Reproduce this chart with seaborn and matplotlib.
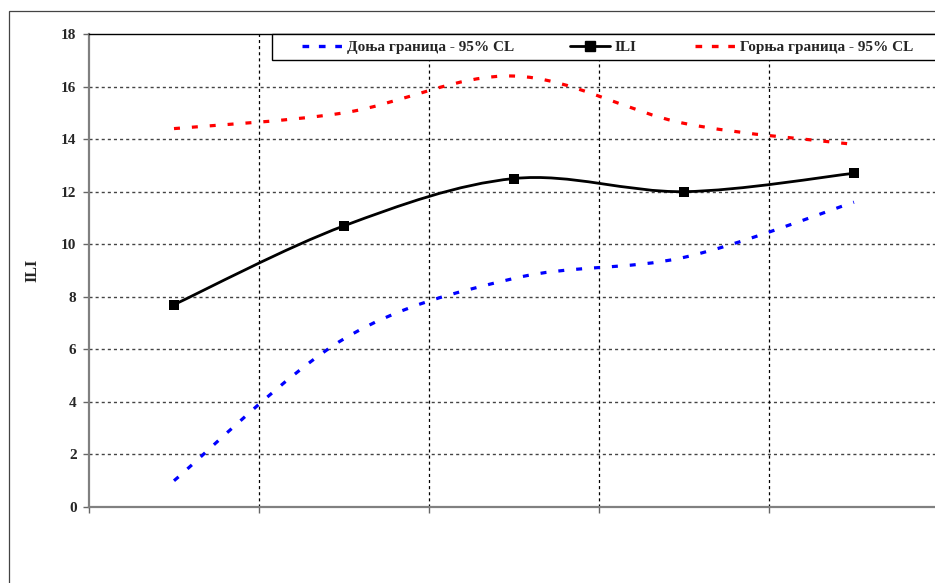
import numpy as np
import pandas as pd
import matplotlib
matplotlib.use("Agg")
import matplotlib.pyplot as plt
import seaborn as sns
from matplotlib.path import Path
from matplotlib.patches import PathPatch, Rectangle
from matplotlib.lines import Line2D

# ---- data ----
categories = [1, 2, 3, 4, 5]
ili = [7.7, 10.7, 12.5, 12.0, 12.7]
lower_ci = [1.0, 6.4, 8.7, 9.5, 11.6]
upper_ci = [14.4, 15.0, 16.4, 14.6, 13.8]
y_ticks = [0, 2, 4, 6, 8, 10, 12, 14, 16, 18]
label_lower = "Доња граница - 95% CL"
label_ili = "ILI"
label_upper = "Горња граница - 95% CL"
y_label = "ILI"

sns.set_theme(style="white")
plt.rcParams["font.family"] = ["Liberation Serif", "DejaVu Serif"]
plt.rcParams["lines.scale_dashes"] = False

df = pd.DataFrame({"x": [c - 0.5 for c in categories], "ili": ili,
                   "lower": lower_ci, "upper": upper_ci})

W, H = 935, 583
fig = plt.figure(figsize=(W / 100, H / 100), dpi=100)
fig.patch.set_facecolor("white")

# outer chart-area border
fig.patches.append(Rectangle((9 / W, -0.1), 1.2, (H - 11) / H + 0.1,
                             transform=fig.transFigure, fill=False,
                             edgecolor="#444444", linewidth=0.9, zorder=1))

ax = fig.add_axes([89 / W, (H - 507) / H, 850 / W, 473 / H])
ax.set_xlim(0, 5)
ax.set_ylim(0, 18)


def smooth_path(xs, ys):
    pts = np.column_stack([xs, ys]).astype(float)
    n = len(pts)
    verts = [pts[0]]
    codes = [Path.MOVETO]
    for i in range(n - 1):
        p0 = pts[i - 1] if i > 0 else pts[i]
        p1 = pts[i]
        p2 = pts[i + 1]
        p3 = pts[i + 2] if i + 2 < n else pts[i + 1]
        c1 = p1 + (p2 - p0) / 6.0
        c2 = p2 - (p3 - p1) / 6.0
        verts += [c1, c2, p2]
        codes += [Path.CURVE4] * 3
    return Path(verts, codes)


dash = (0, (4.3, 8.6))
ax.add_patch(PathPatch(smooth_path(df["x"], df["lower"]), fill=False,
                       edgecolor="#0000FF", linewidth=2.3, linestyle=dash,
                       capstyle="butt", zorder=3))
ax.add_patch(PathPatch(smooth_path(df["x"], df["upper"]), fill=False,
                       edgecolor="#FF0000", linewidth=2.3, linestyle=dash,
                       capstyle="butt", zorder=3))
ax.add_patch(PathPatch(smooth_path(df["x"], df["ili"]), fill=False,
                       edgecolor="black", linewidth=2.0, zorder=4))
sns.scatterplot(data=df, x="x", y="ili", marker="s", color="black",
                s=50, edgecolor="black", linewidth=0, ax=ax, zorder=5,
                legend=False)

# grid
ax.set_yticks(y_ticks)
ax.set_xticks([0, 1, 2, 3, 4, 5])
ax.set_xticklabels([])
ax.set_yticklabels([str(t) for t in y_ticks], fontweight="bold", fontsize=11)
for t in y_ticks[1:-1]:
    ax.axhline(t, color="#444444", linewidth=1.0, linestyle=(0, (2.2, 2.2)), zorder=1)
for t in [1, 2, 3, 4]:
    ax.axvline(t, color="black", linewidth=0.9, linestyle=(0, (2.2, 2.2)), zorder=1)

ax.tick_params(axis="both", direction="out", length=4, width=1.0,
               color="#666666", pad=5, left=True, bottom=True)
ax.set_xlabel("")
ax.set_ylabel("")
for s in ["left", "bottom"]:
    ax.spines[s].set_color("#808080")
    ax.spines[s].set_linewidth(1.6)
ax.spines["top"].set_color("black")
ax.spines["top"].set_linewidth(1.0)
ax.spines["right"].set_color("black")
ax.spines["right"].set_linewidth(1.0)

fig.text(32 / W, 1 - 270 / H, y_label, rotation=90, ha="center", va="center",
         fontweight="bold", fontsize=11.5)

# legend box
fig.patches.append(Rectangle((272 / W, 1 - 60 / H), (950 - 272) / W, 26 / H,
                             transform=fig.transFigure, facecolor="white",
                             edgecolor="black", linewidth=1.0, zorder=2))

fs = 11
entries = [
    (302, label_lower, Line2D([], [], color="#0000FF", linewidth=2.4,
                              linestyle=(0, (4.8, 7.0)))),
    (570, label_ili, Line2D([], [], color="black", linewidth=2.0, marker="s",
                            markersize=6.5)),
    (695, label_upper, Line2D([], [], color="#FF0000", linewidth=2.4,
                              linestyle=(0, (4.8, 7.0)))),
]
for x0, lab, h in entries:
    lg = fig.legend([h], [lab], loc="center left",
                    bbox_to_anchor=(x0 / W, 1 - 47.5 / H),
                    frameon=False, borderpad=0, borderaxespad=0,
                    handlelength=2.62, handletextpad=0.3,
                    prop={"weight": "bold", "size": fs})
    lg.set_zorder(6)

fig.savefig("out.png", dpi=100)
